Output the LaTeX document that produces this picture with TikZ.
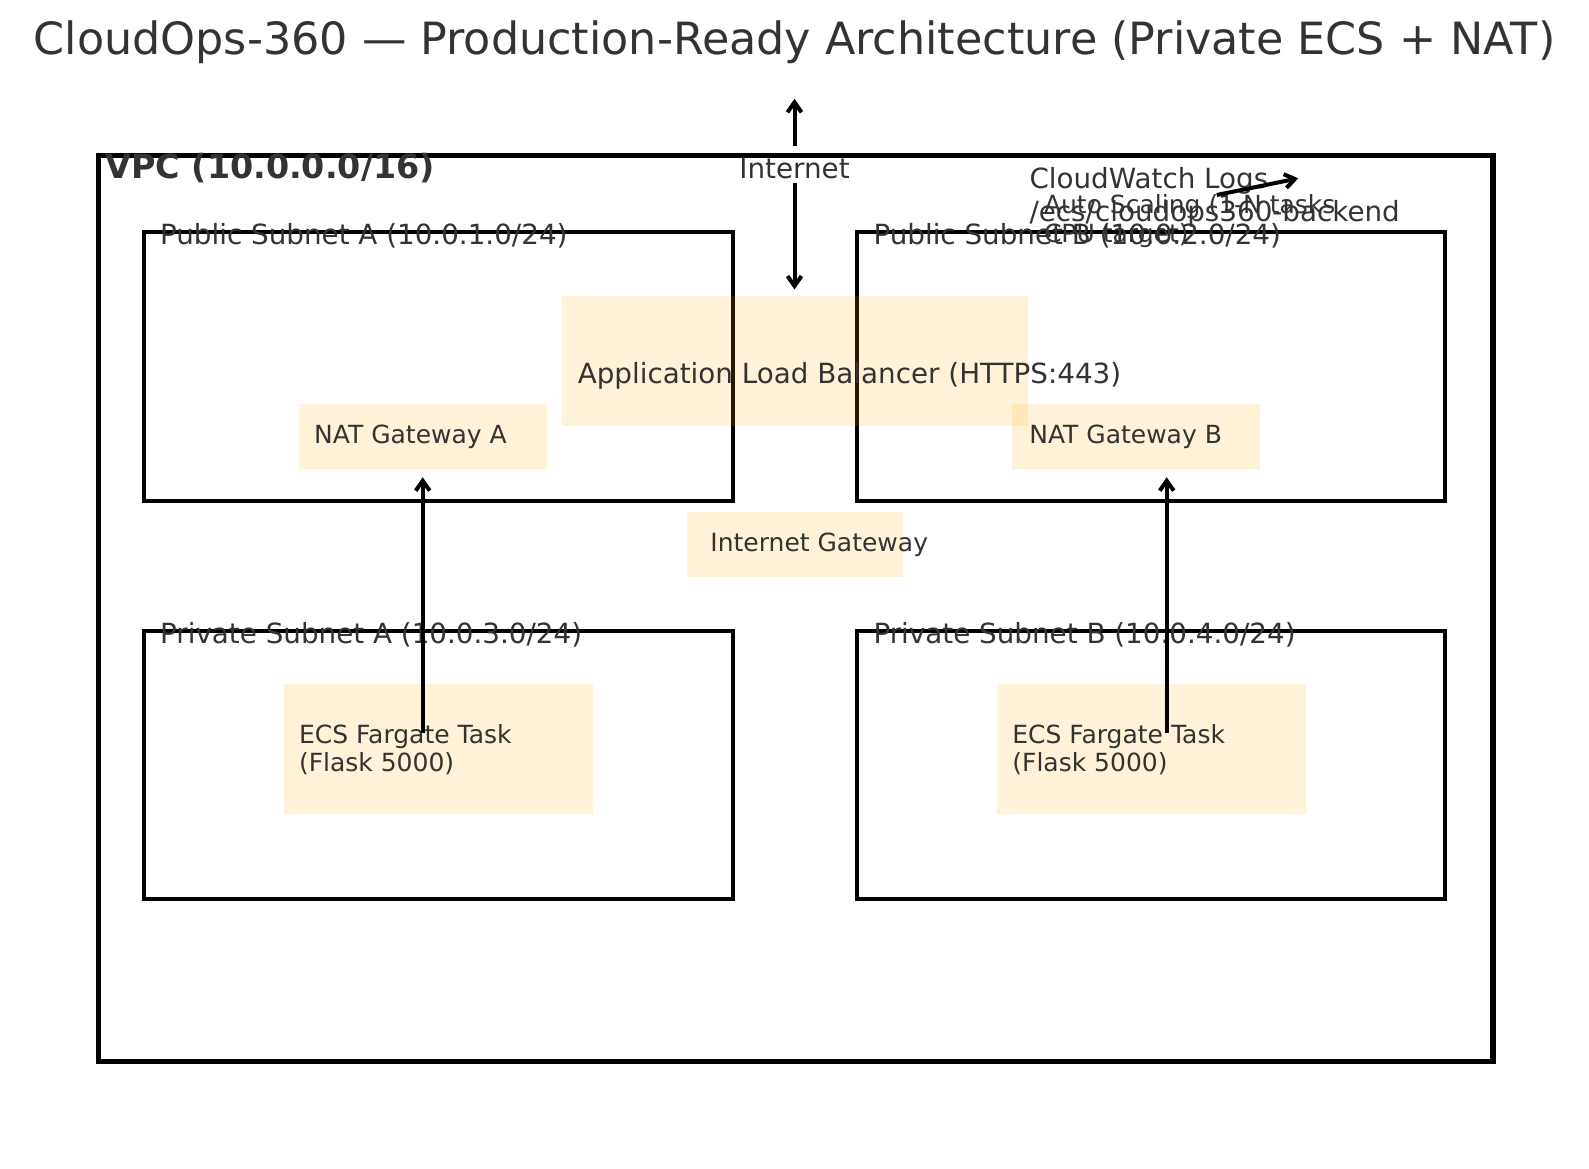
\documentclass[tikz,border=0pt]{standalone}
\usepackage{fontspec}
\setmainfont{DejaVu Sans}
\usetikzlibrary{arrows.meta}
\definecolor{txt}{HTML}{333333}
\definecolor{boxorange}{RGB}{255,165,0}
\begin{document}
\begin{tikzpicture}[x=1pt,y=-1pt,
  every node/.style={inner sep=0pt, outer sep=0pt},
  vpcbox/.style={draw=black, line width=5.6pt, anchor=north west},
  region/.style={draw=black, line width=4.2pt, anchor=north west},
  compbox/.style={fill=boxorange, fill opacity=0.15, draw=none, anchor=north west},
  titlelbl/.style={text=txt, font=\fontsize{44.44}{53}\selectfont, anchor=base},
  vpclbl/.style={text=txt, font=\fontsize{33.33}{40}\selectfont\bfseries, anchor=base west},
  biglbl/.style={text=txt, font=\fontsize{27.78}{33.3}\selectfont, anchor=base west},
  smalllbl/.style={text=txt, font=\fontsize{25}{28.5}\selectfont, anchor=base west},
  conn/.style={draw=black, line width=4pt, -{Straight Barb[length=10pt,width=14pt]}}
]
\useasboundingbox (0,0) rectangle (1589,1168);

% title
\node[titlelbl] (title) at (794.5,54) {CloudOps-360 — Production-Ready Architecture (Private ECS + NAT)};

% VPC and subnets
\node[vpcbox, minimum width=1394.4pt, minimum height=906pt] (vpc) at (98.3,155.5) {};
\node[region, minimum width=588.8pt, minimum height=268.6pt] (pubA) at (143.9,232) {};
\node[region, minimum width=587.8pt, minimum height=268.6pt] (pubB) at (857.3,232) {};
\node[region, minimum width=588.8pt, minimum height=267.6pt] (prvA) at (143.9,631.3) {};
\node[region, minimum width=587.8pt, minimum height=267.6pt] (prvB) at (857.3,631.3) {};

% component boxes
\node[compbox, minimum width=465.2pt, minimum height=129.6pt] (alb) at (562.4,296) {};
\node[compbox, minimum width=248pt, minimum height=65pt] (natA) at (299,404.2) {};
\node[compbox, minimum width=248pt, minimum height=65pt] (natB) at (1012,404.2) {};
\node[compbox, minimum width=215.9pt, minimum height=64.8pt] (igw) at (687.1,511.8) {};
\node[compbox, minimum width=309.5pt, minimum height=130pt] (ecsA) at (283.8,684) {};
\node[compbox, minimum width=309.1pt, minimum height=130pt] (ecsB) at (997.2,684) {};

% labels
\node[vpclbl] (vpct) at (105.5,178) {VPC (10.0.0.0/16)};
\node[biglbl] (pubAt) at (160.1,244.5) {Public Subnet A (10.0.1.0/24)};
\node[biglbl] (pubBt) at (873.5,244.5) {Public Subnet B (10.0.2.0/24)};
\node[biglbl] (prvAt) at (160.1,643.3) {Private Subnet A (10.0.3.0/24)};
\node[biglbl] (prvBt) at (873.5,643.3) {Private Subnet B (10.0.4.0/24)};
\node[biglbl] (albt) at (577.8,383) {Application Load Balancer (HTTPS:443)};
\node[smalllbl] (natAt) at (314.2,443.3) {NAT Gateway A};
\node[smalllbl] (natBt) at (1029.3,443.3) {NAT Gateway B};
\node[smalllbl] (igwt) at (710.4,551) {Internet Gateway};
\node[smalllbl] (ecsAt1) at (299,743.3) {ECS Fargate Task};
\node[smalllbl] (ecsAt2) at (299,771.7) {(Flask 5000)};
\node[smalllbl] (ecsBt1) at (1012.4,743.3) {ECS Fargate Task};
\node[smalllbl] (ecsBt2) at (1012.4,771.7) {(Flask 5000)};
\node[biglbl, anchor=base] (inet) at (794.5,178) {Internet};
\node[biglbl] (cw1) at (1029.5,188) {CloudWatch Logs};
\node[biglbl] (cw2) at (1029.5,221) {/ecs/cloudops360-backend};
\node[smalllbl] (as1) at (1044,213.5) {Auto Scaling (1-N tasks};
\node[smalllbl] (as2) at (1044,242) {CPU target)};

% connectors
\coordinate (sky) at (794.5,98.8);
\coordinate (cwend) at (1298.3,178.3);
\coordinate (cwstart) at (1216.7,195);
\coordinate (srcA) at (422.7,732.7);
\coordinate (srcB) at (1166.7,732.7);
\draw[conn, shorten <=12pt] (inet.north) -- (sky);
\draw[conn, shorten <=4.4pt, shorten >=6.5pt] (inet.south) -- (inet.south |- alb.north);
\draw[conn, shorten >=8pt] (srcA) -- (srcA |- natA.south);
\draw[conn, shorten >=8pt] (srcB) -- (srcB |- natB.south);
\draw[conn] (cwstart) -- (cwend);
\end{tikzpicture}
\end{document}
